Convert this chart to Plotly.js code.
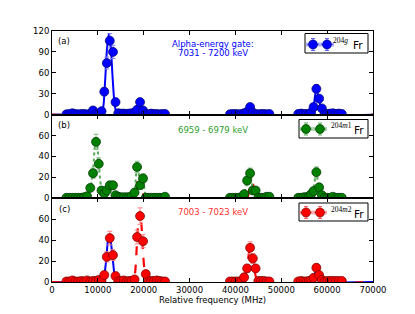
<!DOCTYPE html>
<html><head><meta charset="utf-8">
<script src="https://cdn.plot.ly/plotly-3.0.1.min.js"></script>
<style>html,body{margin:0;padding:0;background:#fff}#chart{width:415px;height:314px}</style>
</head><body><div id="chart"></div>
<script>
// ---------- data ----------
const freq = [3150,3800,4450,5100,5750,6400,7000,7650,8350,8950,9600,10200,10800,11400,11950,12600,13300,13850,14450,15050,15650,16250,16800,17350,18000,18550,19200,19850,20450,21050,21650,22250,22850,23450,24050,24650,
  38800,39400,40050,40650,41300,41900,42550,43200,43800,44400,45000,45600,46200,46800,47400,
  53700,54300,54900,55450,56000,56500,57050,57650,58250,58850,59450,60050,60650,61250,61900,62550,63200];

// panel (a) 204g Fr
const countsG = [0.5,1,2,1,0.5,1,1,0.5,1,6,1,1,5,33,74,106,90,18,2,1.5,1.5,1,1.5,2,3,7,18,6,1,0.5,1.5,1,1,0.5,1,1,
  0.5,1,1,0.5,1,2,4,11,3,1,0.5,1,1,0.5,1,
  1,1.5,1,1,1,3,11,37,23,9,1,1,1.5,2,1,1.5,1];
const errG = [1,1,1.4,1,1,1,1,1,1,2.4,1,1,2.2,5.7,8.6,10.3,9.5,4.2,1.4,1.2,1.2,1,1.2,1.4,1.7,2.6,4.2,2.4,1,1,1.2,1,1,1,1,1,
  1,1,1,1,1,1.4,2,3.3,1.7,1,1,1,1,1,1,
  1,1.2,1,1,1,1.7,3.3,6.1,4.8,3,1,1,1.2,1.4,1,1.2,1];

// panel (b) 204m1 Fr
const countsM1 = [0.5,0.5,0.5,0.5,0.5,0.5,1,2,10,24,54,33,7.5,4.5,7.5,12.5,12.5,3,1.5,1,1,1,1,2,5.5,30,12.5,19,0.5,0.5,0.5,0.5,0.5,0.5,0.5,1.5,
  0.5,0.5,0.5,0.5,1,4,17,24,7.5,7.5,0.5,0.5,0.5,1.5,1.5,
  0.5,0.5,1,1,2,4,7,25,10.5,3,0.5,0.5,0.5,1.5,0.5,0.5,0.5];
const errM1 = [1,1,1,1,1,1,1,1.4,3.2,4.9,7.3,5.7,2.7,2.1,2.7,3.5,3.5,1.7,1.2,1,1,1,1,1.4,2.3,5.5,3.5,4.4,1,1,1,1,1,1,1,1.2,
  1,1,1,1,1,2,4.1,4.9,2.7,2.7,1,1,1,1.2,1.2,
  1,1,1,1,1.4,2,2.6,5,3.2,1.7,1,1,1,1.2,1,1,1];

// panel (c) 204m2 Fr
const countsM2 = [0.5,0.5,1.5,0.5,0.5,1,0.5,1.5,0.5,1,1,2,1,6.7,24,42,25.7,5.7,0.5,1,1.5,0.5,1,1,2.5,43,63,39,7.6,0.5,1,1,1.5,1,0.5,0.5,
  0.5,0.5,0.5,0.5,1,4.5,13,32.7,22.5,13,1,1,1,0.5,0.5,
  0.5,1,0.5,0.5,1,1.5,4,13.6,6.7,2,0.5,1,1,1,1,1,1];
const errM2 = [1,1,1.2,1,1,1,1,1.2,1,1,1,1.4,1,2.6,4.9,6.5,5.1,2.4,1,1,1.2,1,1,1,1.6,6.6,7.9,6.2,2.8,1,1,1,1.2,1,1,1,
  1,1,1,1,1,2.1,3.6,5.7,4.7,3.6,1,1,1,1,1,
  1,1,1,1,1,1.2,2,3.7,2.6,1.4,1,1,1,1,1,1,1];

// fitted curves
const fitA_blue_x = [0,10000,10700,11200,11600,12000,12400,12800,13200,13600,14000,14600,17400,18000,18600,19100,19600,20200,20800,41500,42100,42700,43200,43700,44300,45000,56000,56600,57100,57600,58100,58600,59200,59800,70000];
const fitA_blue_y = [0,0.5,2,12,50,95,116,100,55,18,4,0.5,0.5,3,12,17,10,2,0,0,2,8,10,6,1.5,0,0,3,14,36,26,10,2,0,0];
const fitA_red_x = [0,42600,43300,44000,70000];
const fitA_red_y = [0,0,6,0,0];

const fitB_green_x = [0,7300,7900,8500,9000,9400,9700,10000,10400,10800,11300,11900,12500,13100,13600,14200,15000,17000,17600,18100,18500,18900,19300,19800,20300,20900,41200,41800,42400,43000,43400,43900,44400,45000,46000,55800,56400,57000,57600,58100,58700,59300,70000];
const fitB_green_y = [0,0,3,12,30,52,57,45,22,9,6,8,12,12,5,1,0,0,2,10,28,24,14,19,5,0,0,3,12,24,18,8,4,1,0,0,3,9,24,13,4,0,0];
const fitB_red_x = [0,17700,18200,18700,19050,19400,19800,20200,42500,43000,43500,43900,44300,44800,70000];
const fitB_red_y = [0,0,5,17,23,17,6,0,0,9,24,12,3,0,0];

const fitC_blue_x = [0,10800,11300,11800,12200,12500,12900,13300,13700,14200,56400,57000,57400,57700,58100,58600,59100,70000];
const fitC_blue_y = [0,0,4,20,40,44,36,20,5,0,0,3,9,10,6,1,0,0];
const fitC_red_x = [0,17600,18100,18500,18850,19150,19500,19900,20300,20800,41500,42000,42500,43000,43300,43700,44100,44500,45000,70000];
const fitC_red_y = [0,0,8,35,60,67,55,25,6,0,0,3,14,29,33,26,14,4,0,0];

const xTicks = [0,10000,20000,30000,40000,50000,60000,70000];
const xTickLabels = ['0','10000','20000','30000','40000','50000','60000','70000'];
const yTicksA = [0,30,60,90,120];
const yTicksBC = [0,20,40,60];

const panelLabels = ['(a)','(b)','(c)'];
const gateTexts = ['Alpha-energy gate:','7031 - 7200 keV','6959 - 6979 keV','7003 - 7023 keV'];
const isotopeSup = ['204<i>g</i>','204<i>m</i>1','204<i>m</i>2'];

// ---------- styles ----------
const BLUE='#0000ff', GREEN='#007f00', RED='#ff0000';
const FONT='DejaVu Sans';

function fitTrace(x,y,color,dash,width,xa,ya){
  return {x:x,y:y,xaxis:xa,yaxis:ya,mode:'lines',type:'scatter',hoverinfo:'skip',
    line:{color:color,dash:dash,width:width,shape:'spline',smoothing:0.6}};
}
function dataTrace(y,err,color,edge,ecolor,xa,ya){
  return {x:freq,y:y,xaxis:xa,yaxis:ya,mode:'markers',type:'scatter',
    marker:{size:9,color:color,line:{color:edge,width:0.7}},
    error_y:{type:'data',array:err,visible:true,color:ecolor,thickness:1,width:2.5}};
}

const traces = [
  fitTrace(fitA_red_x,fitA_red_y,RED,'dash',2.2,'x','y'),
  fitTrace(fitA_blue_x,fitA_blue_y,BLUE,'solid',2,'x','y'),
  dataTrace(countsG,errG,BLUE,'#000070','#8080ff','x','y'),

  fitTrace(fitB_red_x,fitB_red_y,RED,'dash',2.2,'x2','y2'),
  fitTrace(fitB_green_x,fitB_green_y,'#55aa55','dot',2,'x2','y2'),
  dataTrace(countsM1,errM1,GREEN,'#003300','#80c080','x2','y2'),

  fitTrace(fitC_blue_x,fitC_blue_y,BLUE,'solid',2,'x3','y3'),
  fitTrace(fitC_red_x,fitC_red_y,RED,'dash',2.2,'x3','y3'),
  dataTrace(countsM2,errM2,RED,'#700000','#ff8080','x3','y3')
];

// ---------- layout ----------
const W=415,H=314,ML=52,MR=42,MT=31,MB=32;
const PW=W-ML-MR, PH=H-MT-MB;
const px2x = p => (p-ML)/PW;
const px2y = p => (H-MB-p)/PH;

const ax = {showline:true,linecolor:'#000',linewidth:1,mirror:'ticks',ticks:'inside',ticklen:4,tickwidth:1,tickcolor:'#000',
  showgrid:false,zeroline:false,tickfont:{family:FONT,size:8.5,color:'#000'}};

const layout = {
  width:W,height:H,margin:{l:ML,r:MR,t:MT,b:MB},paper_bgcolor:'#fff',plot_bgcolor:'#fff',showlegend:false,
  font:{family:FONT,color:'#000'},
  xaxis:Object.assign({},ax,{anchor:'y',range:[0,70000],tickvals:xTicks,ticktext:xTickLabels,showticklabels:false}),
  xaxis2:Object.assign({},ax,{anchor:'y2',range:[0,70000],tickvals:xTicks,ticktext:xTickLabels,showticklabels:false}),
  xaxis3:Object.assign({},ax,{anchor:'y3',range:[0,70000],tickvals:xTicks,ticktext:xTickLabels,
    title:{text:'Relative frequency (MHz)',font:{family:FONT,size:8.5,color:'#000'},standoff:2}}),
  yaxis:Object.assign({},ax,{domain:[2/3,1],anchor:'x',range:[0,120],tickvals:yTicksA}),
  yaxis2:Object.assign({},ax,{domain:[1/3,2/3],anchor:'x2',range:[0,80],tickvals:yTicksBC}),
  yaxis3:Object.assign({},ax,{domain:[0,1/3],anchor:'x3',range:[0,80],tickvals:yTicksBC}),
  annotations:[],shapes:[]
};

function ann(text,px,py,color,size,family,xanchor){
  layout.annotations.push({text:text,xref:'paper',yref:'paper',x:px2x(px),y:px2y(py),
    xanchor:xanchor||'center',yanchor:'middle',showarrow:false,
    font:{family:family||FONT,size:size,color:color}});
}
ann(panelLabels[0],64,41,'#000',8.5);
ann(panelLabels[1],64,125,'#000',8.5);
ann(panelLabels[2],64,209,'#000',8.5);
ann(gateTexts[0],212.5,44.5,BLUE,8.5);
ann(gateTexts[1],212.5,52.5,BLUE,8.5);
ann(gateTexts[2],212.5,129.5,'#2e9e2e',8.5);
ann(gateTexts[3],213,212,'#ff3030',8.5);

function legend(box,mx,my,fill,edge,ecol,sup,supx,frx){
  const S=layout.shapes;
  const P=(x0,y0,x1,y1,extra)=>Object.assign({xref:'paper',yref:'paper',layer:'above',
    x0:px2x(x0),x1:px2x(x1),y0:px2y(y0),y1:px2y(y1)},extra);
  S.push(P(box[0],box[2],box[1],box[3],{type:'rect',line:{color:'#000',width:1},fillcolor:'#fff'}));
  mx.forEach(cx=>{
    const L={type:'line',line:{color:ecol,width:1}};
    S.push(P(cx-6,my,cx+6,my,L));
    S.push(P(cx,my-6,cx,my+6,L));
    S.push(P(cx-2,my-6,cx+2,my-6,L));
    S.push(P(cx-2,my+6,cx+2,my+6,L));
    S.push(P(cx-6,my-2,cx-6,my+2,L));
    S.push(P(cx+6,my-2,cx+6,my+2,L));
    S.push(P(cx-4.5,my+4.5,cx+4.5,my-4.5,{type:'circle',fillcolor:fill,line:{color:edge,width:0.7}}));
  });
  ann(sup,supx,my-3.5,'#000',7.5,'Liberation Serif');
  ann('Fr',frx,my+1,'#000',10.5);
}
legend([305,368,33.5,53],[313,327],44.5,BLUE,'#000070','#6060ff',isotopeSup[0],340.5,358);
legend([299,368,119.5,138],[306,320],129,GREEN,'#003300','#60b060',isotopeSup[1],341,359);
legend([299,368,203,221],[306,320],212.5,RED,'#700000','#ff6060',isotopeSup[2],341,359);

Plotly.newPlot('chart',traces,layout,{displayModeBar:false,staticPlot:true});
</script>
</body></html>
